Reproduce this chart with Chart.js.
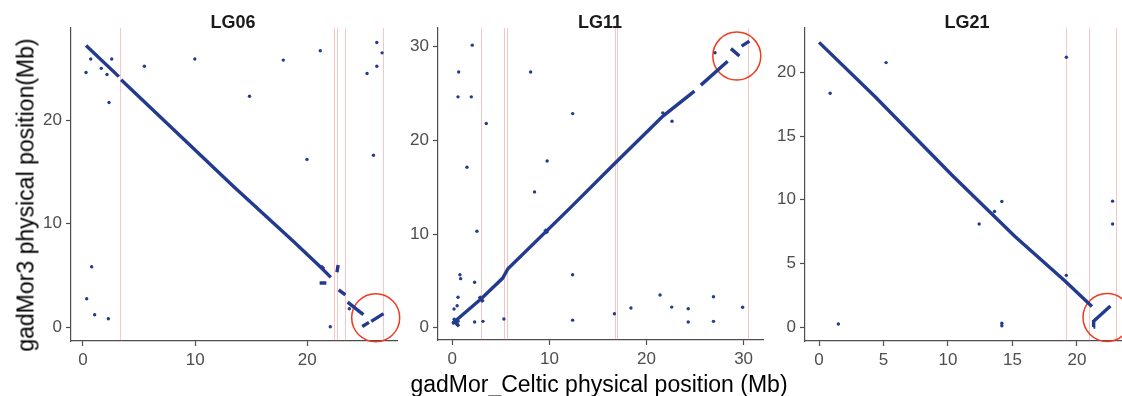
<!DOCTYPE html>
<html>
<head>
<meta charset="utf-8">
<script src="https://cdn.jsdelivr.net/npm/chart.js@4.4.0/dist/chart.umd.min.js"></script>
<style>
  body { margin: 0; width: 1122px; height: 396px; background: #fff; position: relative; overflow: hidden;
         font-family: "Liberation Sans", Arial, Helvetica, sans-serif; }
  canvas { position: absolute; top: 0; }
  .ttl { position: absolute; top: 13px; font-size: 18px; line-height: 18px; font-weight: bold; color: #1a1a1a;
         transform: translateX(-50%); white-space: nowrap; }
  .xlab { position: absolute; top: 373px; left: 599px; transform: translateX(-50%); font-size: 23px; line-height: 23px;
          color: #000; white-space: nowrap; }
  .ylab { position: absolute; left: 26px; top: 195px; transform: translate(-50%, -50%) rotate(-90deg); font-size: 23px;
          line-height: 23px; color: #000; white-space: nowrap; }
</style>
</head>
<body>
<canvas id="c1" width="374" height="371" style="left:31px"></canvas>
<canvas id="c2" width="373" height="370" style="left:398px"></canvas>
<canvas id="c3" width="357" height="371" style="left:765px"></canvas>
<div class="ttl" style="left:233px">LG06</div>
<div class="ttl" style="left:600px">LG11</div>
<div class="ttl" style="left:967px">LG21</div>
<div class="xlab">gadMor_Celtic physical position (Mb)</div>
<div class="ylab">gadMor3 physical position(Mb)</div>
<script>
// ---- LG06 ----
const lg06LineX = [0.27, 3.2, 3.3, 3.4, 13.4, 18.8, 20.0, 21.2, 22.1, 22.1, 22.8, 23.4, 23.4, 23.6, 25.0, 25.0, 24.9, 25.5, 25.5, 25.7, 26.8,
                   26.8, 21.1, 21.7, 21.7, 22.65, 22.75, 22.75, 21.2, 21.5];
const lg06LineY = [27.2, 24.2, null, 23.9, 13.6, 8.24, 7.0, 5.77, 4.8, null, 3.6, 3.1, null, 2.4, 1.2, null, 0.05, 0.45, null, 0.55, 1.3,
                   null, 4.25, 4.25, null, 5.3, 6.0, null, 5.9, 5.6];
const lg06DotX = [0.27, 0.69, 1.63, 2.14, 2.56, 2.32, 5.47, 9.97, 14.85, 17.86, 21.16, 19.97, 25.33, 26.2, 26.2, 26.67, 25.9,
                  0.77, 0.33, 1.04, 2.26, 22.05, 23.75];
const lg06DotY = [24.6, 25.9, 25.0, 24.4, 25.9, 21.7, 25.2, 25.9, 22.3, 25.8, 26.7, 16.2, 24.5, 27.5, 25.2, 26.5, 16.6,
                  5.83, 2.73, 1.19, 0.80, 0.03, 1.77];
const lg06Breaks = [3.3, 22.4, 22.65, 23.4, 26.76];
const lg06Circle = [26.1, 0.9];
const lg06XTicks = [0, 10, 20];
const lg06YTicks = [0, 10, 20];
const lg06XRange = [-1.07, 28.0];
const lg06YRange = [-1.35, 28.9];

// ---- LG11 ----
const lg11LineX = [0.07, 2.98, 5.2, 5.73, 12.25, 16.7, 21.7, 24.94, 24.94, 25.6, 28.36, 28.36, 28.7, 29.57, 29.57, 29.8, 30.6,
                   30.6, 0.1, 0.7, 0.7, 2.75, 3.2, 3.2, 9.5, 9.85];
const lg11LineY = [0.5, 3.1, 5.3, 6.3, 12.9, 17.5, 22.6, 25.26, null, 25.9, 28.46, null, 29.8, 29.0, null, 30.06, 30.6,
                   null, 0.8, 0.15, null, 3.35, 2.75, null, 10.5, 10.1];
const lg11DotX = [2.06, 0.66, 0.59, 1.96, 3.5, 1.51, 8.07, 12.4, 9.77, 8.47, 2.54, 0.79, 0.86, 2.3, 0.59, 0.5, 0.18,
                  2.3, 3.16, 5.32, 12.39, 12.39, 16.7, 18.4, 21.4, 22.6, 24.3, 24.3, 26.9, 26.9, 29.9, 21.68, 22.63, 27.06,
                  0.1, 0.5, 0.2, 0.6];
const lg11DotY = [30.17, 27.3, 24.65, 24.65, 21.8, 17.14, 27.3, 22.86, 17.8, 14.5, 10.3, 5.66, 5.24, 4.85, 3.25, 2.35, 2.0,
                  0.61, 0.68, 0.93, 5.66, 0.81, 1.5, 2.1, 3.5, 2.2, 2.03, 0.61, 3.3, 0.68, 2.18, 22.94, 22.05, 29.35,
                  0.5, 0.4, 0.9, 0.7];
const lg11Breaks = [3.0, 5.3, 5.65, 16.73, 17.0, 30.5];
const lg11Circle = [29.3, 29.0];
const lg11XTicks = [0, 10, 20, 30];
const lg11YTicks = [0, 10, 20, 30];
const lg11XRange = [-1.47, 32.0];
const lg11YRange = [-1.31, 32.0];

// ---- LG21 ----
const lg21LineX = [0, 4.35, 10.3, 15.2, 19.1, 21.17, 21.17, 21.28, 21.3, 21.3, 21.3, 22.6];
const lg21LineY = [22.37, 18.1, 11.95, 7.12, 3.59, 1.62, null, 0.0, 0.55, null, 0.45, 1.65];
const lg21DotX = [0.86, 5.2, 19.18, 1.5, 12.42, 13.61, 14.18, 14.18, 14.18, 19.18, 22.77, 22.77];
const lg21DotY = [18.37, 20.78, 21.2, 0.24, 8.1, 9.08, 9.87, 0.3, 0.1, 4.06, 9.89, 8.1];
const lg21Breaks = [19.18, 20.96, 23.06];
const lg21Circle = [22.34, 0.75];
const lg21XTicks = [0, 5, 10, 15, 20];
const lg21YTicks = [0, 5, 10, 15, 20];
const lg21XRange = [-1.09, 23.5];
const lg21YRange = [-1.1, 23.5];

const navy = '#233b8e';
const axisGrey = '#4d4d4d';

function pairs(xs, ys) {
    return xs.map((x, i) => ({ x: x, y: ys[i] }));
}

// pale red vertical lines at breakpoints
const breakLines = {
    id: 'breakLines',
    beforeDatasetsDraw(chart, args, opts) {
        const ctx = chart.ctx;
        const area = chart.chartArea;
        ctx.save();
        ctx.strokeStyle = 'rgba(235, 90, 90, 0.35)';
        ctx.lineWidth = 1;
        opts.values.forEach(v => {
            const px = Math.round(chart.scales.x.getPixelForValue(v)) + 0.5;
            ctx.beginPath();
            ctx.moveTo(px, area.top);
            ctx.lineTo(px, area.bottom);
            ctx.stroke();
        });
        ctx.restore();
    }
};

function makePanel(id, lineX, lineY, dotX, dotY, breaks, circle, xTicks, yTicks, xRange, yRange, padRight) {
    const ctx = document.getElementById(id).getContext('2d');
    const tickFont = { family: '"Liberation Sans", Arial, sans-serif', size: 17 };
    return new Chart(ctx, {
        type: 'scatter',
        data: {
            datasets: [{
                data: pairs(lineX, lineY),
                showLine: true,
                spanGaps: false,
                borderColor: navy,
                borderWidth: 3.4,
                pointRadius: 0
            }, {
                data: pairs(dotX, dotY),
                pointRadius: 1.7,
                pointBackgroundColor: navy,
                pointBorderWidth: 0
            }, {
                data: [{ x: circle[0], y: circle[1] }],
                pointRadius: 24,
                pointStyle: 'circle',
                pointBackgroundColor: 'rgba(0,0,0,0)',
                pointBorderColor: '#f03a22',
                pointBorderWidth: 1.5,
                clip: false
            }]
        },
        options: {
            responsive: false,
            animation: false,
            layout: { autoPadding: false, padding: { top: 28, right: padRight, left: 0, bottom: 0 } },
            plugins: {
                legend: { display: false },
                tooltip: { enabled: false },
                breakLines: { values: breaks }
            },
            scales: {
                x: {
                    type: 'linear',
                    min: xRange[0],
                    max: xRange[1],
                    afterBuildTicks: s => { s.ticks = xTicks.map(v => ({ value: v })); },
                    afterFit: s => { s.height = 30; },
                    grid: { drawOnChartArea: false, drawTicks: true, tickLength: 5, tickColor: axisGrey, tickWidth: 1.2 },
                    border: { display: true, color: axisGrey, width: 1.2 },
                    ticks: { color: axisGrey, font: tickFont, padding: 4, maxRotation: 0 }
                },
                y: {
                    type: 'linear',
                    min: yRange[0],
                    max: yRange[1],
                    afterBuildTicks: s => { s.ticks = yTicks.map(v => ({ value: v })); },
                    afterFit: s => { s.width = 40; },
                    grid: { drawOnChartArea: false, drawTicks: true, tickLength: 5, tickColor: axisGrey, tickWidth: 1.2 },
                    border: { display: true, color: axisGrey, width: 1.2 },
                    ticks: { color: axisGrey, font: tickFont, padding: 4 }
                }
            }
        },
        plugins: [breakLines]
    });
}

makePanel('c1', lg06LineX, lg06LineY, lg06DotX, lg06DotY, lg06Breaks, lg06Circle, lg06XTicks, lg06YTicks, lg06XRange, lg06YRange, 8);
makePanel('c2', lg11LineX, lg11LineY, lg11DotX, lg11DotY, lg11Breaks, lg11Circle, lg11XTicks, lg11YTicks, lg11XRange, lg11YRange, 8);
makePanel('c3', lg21LineX, lg21LineY, lg21DotX, lg21DotY, lg21Breaks, lg21Circle, lg21XTicks, lg21YTicks, lg21XRange, lg21YRange, 0);
</script>
</body>
</html>
